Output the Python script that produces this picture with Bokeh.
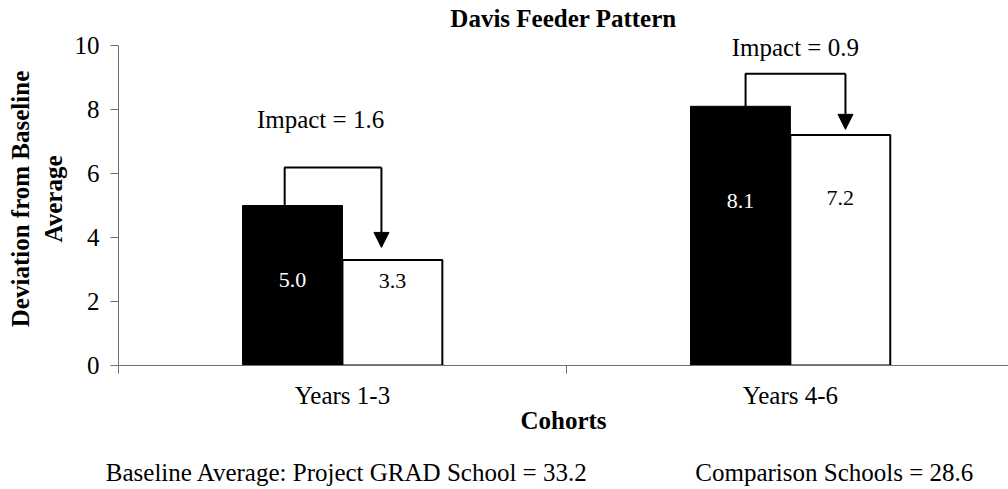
import math
from bokeh.plotting import figure
from bokeh.models import Range1d, FixedTicker, Label, Arrow, NormalHead, ColumnDataSource, LinearAxis
from bokeh.embed import file_html
from bokeh.resources import INLINE

# ---- data ----
categories = ["Years 1-3", "Years 4-6"]
grad_values = [5.0, 8.1]
comparison_values = [3.3, 7.2]
impact_values = [1.6, 0.9]
y_ticks = [0, 2, 4, 6, 8, 10]
title_text = "Davis Feeder Pattern"
x_title = "Cohorts"
y_title = "Deviation from Baseline\nAverage"
baseline_grad = 33.2
baseline_comp = 28.6
notes = [f"Baseline Average: Project GRAD School = {baseline_grad}",
         f"Comparison Schools = {baseline_comp}"]

FONT = "Liberation Serif"
AXIS_GRAY = "#6e6e6e"

BAR_W = 0.223
OFF = BAR_W / 2

p = figure(width=1008, height=489, output_backend="svg", toolbar_location=None,
           x_range=Range1d(0, 1.987), y_range=Range1d(0, 10.40625),
           min_border_left=118, min_border_right=0, min_border_top=32, min_border_bottom=124)
p.outline_line_color = None
p.xgrid.visible = False
p.ygrid.visible = False
p.background_fill_color = "white"
p.border_fill_color = "white"

# title
p.title.text = title_text
p.title.align = "center"
p.title.offset = 28
p.title.standoff = 2
p.title.text_font = FONT
p.title.text_font_size = "25px"
p.title.text_font_style = "bold"
p.title.text_color = "black"

xc = [i + 0.5 for i in range(len(categories))]
src = ColumnDataSource(dict(
    xg=[x - OFF for x in xc], xcmp=[x + OFF for x in xc],
    grad=grad_values, comp=comparison_values,
))

p.vbar(x="xg", top="grad", bottom=0, width=BAR_W, source=src,
       fill_color="black", line_color="black", line_width=1)
p.vbar(x="xcmp", top="comp", bottom=0, width=BAR_W, source=src,
       fill_color="white", line_color="black", line_width=2)

# value labels inside bars (positions chosen to match the layout)
grad_lbl_y = [2.67, 5.13]
comp_lbl_y = [2.63, 5.25]
for i in range(len(categories)):
    p.add_layout(Label(x=xc[i] - OFF, y=grad_lbl_y[i], text=f"{grad_values[i]:.1f}",
                       text_align="center", text_baseline="middle",
                       text_font=FONT, text_font_size="22px", text_color="white"))
    p.add_layout(Label(x=xc[i] + OFF, y=comp_lbl_y[i], text=f"{comparison_values[i]:.1f}",
                       text_align="center", text_baseline="middle",
                       text_font=FONT, text_font_size="22px", text_color="black"))

# impact brackets / arrows
bracket_left = [0.371, 1.400]
bracket_right = [0.587, 1.623]
bracket_top = [6.19, 9.12]
arrow_tip = [3.69, 7.38]
impact_lbl_x = [0.451, 1.511]
impact_lbl_y = [7.70, 9.95]
for i in range(len(categories)):
    p.line([bracket_left[i], bracket_left[i], bracket_right[i]],
           [grad_values[i], bracket_top[i], bracket_top[i]],
           line_color="black", line_width=2)
    p.add_layout(Arrow(end=NormalHead(size=15, fill_color="black", line_color="black"),
                       x_start=bracket_right[i], y_start=bracket_top[i],
                       x_end=bracket_right[i], y_end=arrow_tip[i],
                       line_color="black", line_width=2))
    p.add_layout(Label(x=impact_lbl_x[i], y=impact_lbl_y[i], text=f"Impact = {impact_values[i]}",
                       text_align="center", text_baseline="middle",
                       text_font=FONT, text_font_size="25px", text_color="black"))

# y axis
p.yaxis.ticker = FixedTicker(ticks=y_ticks)
p.yaxis.bounds = (0, 10)
p.yaxis.axis_line_color = AXIS_GRAY
p.yaxis.major_tick_line_color = AXIS_GRAY
p.yaxis.major_tick_out = 8
p.yaxis.major_tick_in = 0
p.yaxis.minor_tick_line_color = None
p.yaxis.major_label_standoff = 11
p.yaxis.major_label_text_font = FONT
p.yaxis.major_label_text_font_size = "25px"
p.yaxis.major_label_text_color = "black"
p.yaxis.axis_label = y_title
p.yaxis.axis_label_standoff = 5
p.yaxis.axis_label_text_font = FONT
p.yaxis.axis_label_text_font_size = "25px"
p.yaxis.axis_label_text_font_style = "bold"
p.yaxis.axis_label_text_color = "black"
p.yaxis.axis_label_text_align = "center"

# x axis
p.xaxis.ticker = FixedTicker(ticks=xc, minor_ticks=[0, 1, 2])
p.xaxis.major_label_overrides = {xc[i]: categories[i] for i in range(len(categories))}
p.xaxis.axis_line_color = AXIS_GRAY
p.xaxis.major_tick_out = 0
p.xaxis.major_tick_in = 0
p.xaxis.major_tick_line_color = None
p.xaxis.minor_tick_out = 8
p.xaxis.minor_tick_in = 0
p.xaxis.minor_tick_line_color = AXIS_GRAY
p.xaxis.major_label_standoff = 8
p.xaxis.major_label_text_font = FONT
p.xaxis.major_label_text_font_size = "25px"
p.xaxis.major_label_text_color = "black"
p.xaxis.axis_label = x_title
p.xaxis.axis_label_standoff = -5
p.xaxis.axis_label_text_font = FONT
p.xaxis.axis_label_text_font_size = "25px"
p.xaxis.axis_label_text_font_style = "bold"
p.xaxis.axis_label_text_color = "black"

# baseline notes as a label-only axis below
note_x = [0.510, 1.598]
notes_axis = LinearAxis(ticker=FixedTicker(ticks=note_x, minor_ticks=[]),
                        major_label_overrides={note_x[i]: notes[i] for i in range(len(notes))},
                        axis_line_color=None, major_tick_line_color=None, minor_tick_line_color=None,
                        major_label_standoff=16, major_label_text_font=FONT,
                        major_label_text_font_size="25px", major_label_text_color="black")
p.add_layout(notes_axis, "below")

open("out.html", "w").write(file_html(p, INLINE))
